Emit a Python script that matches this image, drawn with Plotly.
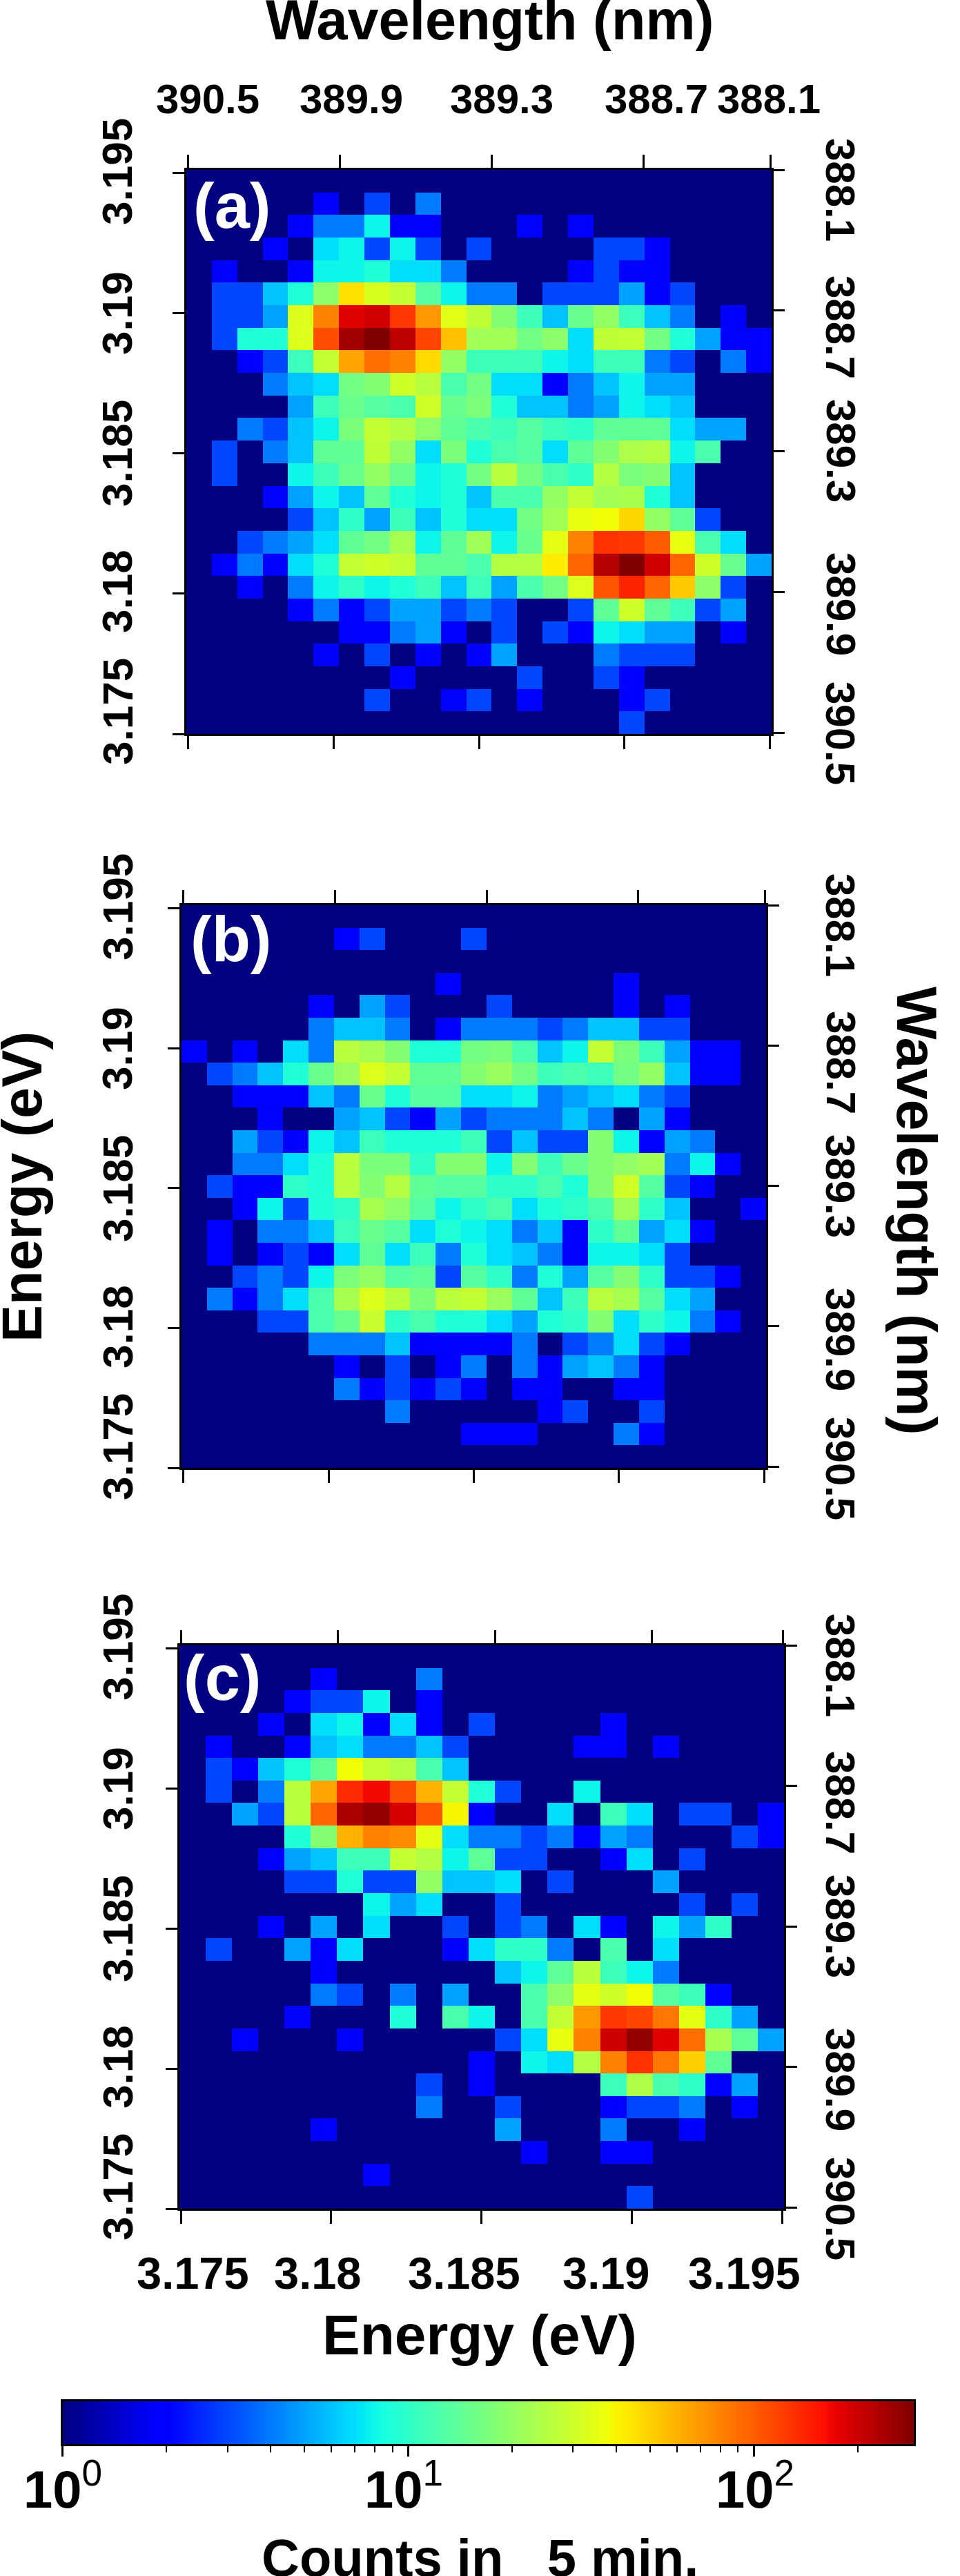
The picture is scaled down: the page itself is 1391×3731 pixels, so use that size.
import numpy as np
import plotly.graph_objects as go

# ---------- data: counts per cell, rows listed top to bottom ----------
Z = [0] * 23
panel_a = [
 Z,
 [0,0,0,0,0,2,0,3,0,4,0,0,0,0,0,0,0,0,0,0,0,0,0],
 [0,0,0,0,2,4,4,8,2,2,0,0,0,2,0,2,0,0,0,0,0,0,0],
 [0,0,0,2,0,7,8,3,8,3,0,3,0,0,0,0,3,3,2,0,0,0,0],
 [0,2,0,0,2,8,8,9,7,7,4,0,0,0,0,2,3,2,2,0,0,0,0],
 [0,3,3,6,9,19,45,32,28,13,8,4,4,0,3,3,3,5,2,3,0,0,0],
 [0,3,3,5,33,80,180,195,125,70,34,27,18,11,6,15,20,11,6,4,0,2,0],
 [0,3,9,9,33,110,245,290,215,115,55,22,22,16,19,7,27,28,16,9,5,2,2],
 [0,0,2,3,11,28,65,90,80,47,20,11,11,11,8,7,11,11,4,3,0,4,2],
 [0,0,0,4,6,7,16,18,30,26,12,16,7,7,2,4,6,8,5,5,0,0,0],
 [0,0,0,0,5,11,15,13,12,30,15,17,9,6,6,4,5,8,7,6,0,0,0],
 [0,0,4,3,6,8,17,28,25,19,14,12,11,13,11,10,14,14,14,7,5,5,0],
 [0,3,0,4,6,14,14,27,20,7,17,9,12,13,7,14,18,24,25,8,12,0,0],
 [0,3,0,0,8,11,15,20,15,8,9,16,26,16,12,10,25,17,18,6,0,0,0],
 [0,0,0,2,5,8,6,14,9,8,9,6,12,12,20,28,22,23,9,6,0,0,0],
 [0,0,0,0,3,6,10,5,11,6,9,7,7,16,22,36,38,48,20,14,3,0,0],
 [0,0,3,4,5,7,14,16,23,8,14,22,8,15,35,80,130,125,100,36,12,7,0],
 [0,2,4,2,7,9,28,30,28,14,14,12,25,25,42,95,225,290,195,95,30,15,5],
 [0,0,2,0,4,8,10,8,9,11,6,11,5,12,16,33,105,140,95,52,19,3,0],
 [0,0,0,0,2,4,2,3,5,5,3,4,3,0,0,3,14,30,14,11,3,5,0],
 [0,0,0,0,0,0,2,2,4,5,2,0,3,0,3,2,8,7,5,5,0,2,0],
 [0,0,0,0,0,2,0,3,0,2,0,2,5,0,0,0,4,3,3,3,0,0,0],
 [0,0,0,0,0,0,0,0,2,0,0,0,0,3,0,0,3,2,0,0,0,0,0],
 [0,0,0,0,0,0,0,3,0,0,2,3,0,2,0,0,0,2,3,0,0,0,0],
 [0,0,0,0,0,0,0,0,0,0,0,0,0,0,0,0,0,3,0,0,0,0,0],
]
panel_b = [
 Z,
 [0,0,0,0,0,0,2,3,0,0,0,3,0,0,0,0,0,0,0,0,0,0,0],
 Z,
 [0,0,0,0,0,0,0,0,0,0,2,0,0,0,0,0,0,2,0,0,0,0,0],
 [0,0,0,0,0,2,0,5,3,0,0,0,3,0,0,0,0,2,0,2,0,0,0],
 [0,0,0,0,0,4,6,6,4,0,2,4,4,4,3,4,6,6,3,3,0,0,0],
 [2,0,2,0,7,4,26,23,18,9,9,16,17,12,6,8,28,17,11,5,2,2,0],
 [0,3,4,6,9,15,21,33,28,14,14,18,21,16,11,12,11,16,20,6,2,2,0],
 [0,0,2,2,2,6,4,15,9,13,13,7,7,8,4,5,6,7,4,3,0,0,0],
 [0,0,0,2,0,0,5,6,3,2,5,3,4,4,4,6,4,0,5,2,0,0,0],
 [0,0,5,3,2,8,6,11,9,9,9,11,3,6,3,3,18,8,2,5,4,0,0],
 [0,0,4,4,7,9,26,17,17,10,18,18,8,18,11,15,18,20,22,4,8,2,0],
 [0,3,2,2,10,9,26,18,25,14,13,13,10,10,12,9,18,30,13,3,2,0,0],
 [0,0,2,8,3,9,10,23,19,13,8,10,12,7,9,10,12,22,10,6,0,0,2],
 [0,2,0,4,4,6,11,15,13,7,9,8,7,4,6,2,10,14,5,7,2,0,0],
 [0,2,0,2,3,2,7,14,7,11,4,9,7,6,4,2,8,8,7,3,0,0,0],
 [0,0,3,4,3,8,17,20,13,14,3,13,10,4,9,5,13,18,10,3,3,2,0],
 [0,4,2,4,7,12,23,33,26,17,26,28,21,14,6,11,26,23,13,7,5,0,0],
 [0,0,0,3,3,12,15,29,10,12,9,9,7,5,9,10,18,7,10,8,4,2,0],
 [0,0,0,0,0,4,4,4,6,2,2,2,2,4,0,3,4,7,3,2,0,0,0],
 [0,0,0,0,0,0,2,0,3,0,2,4,0,4,2,5,6,4,2,0,0,0,0],
 [0,0,0,0,0,0,4,2,3,2,3,2,0,2,2,0,0,2,2,0,0,0,0],
 [0,0,0,0,0,0,0,0,4,0,0,0,0,0,2,3,0,0,3,0,0,0,0],
 [0,0,0,0,0,0,0,0,0,0,0,2,2,2,0,0,0,4,2,0,0,0,0],
 Z,
]
panel_c = [
 Z,
 [0,0,0,0,0,2,0,0,0,4,0,0,0,0,0,0,0,0,0,0,0,0,0],
 [0,0,0,0,2,3,3,8,0,2,0,0,0,0,0,0,0,0,0,0,0,0,0],
 [0,0,0,2,0,7,8,2,7,2,0,3,0,0,0,0,2,0,0,0,0,0,0],
 [0,2,0,0,2,6,7,4,4,6,3,0,0,0,0,2,2,0,2,0,0,0,0],
 [0,3,2,6,9,14,38,28,25,12,6,0,0,0,0,0,0,0,0,0,0,0,0],
 [0,3,0,4,26,65,135,165,110,60,28,9,3,0,0,8,0,0,0,0,0,0,0],
 [0,0,5,3,26,95,235,265,190,105,40,2,0,0,7,0,11,7,0,3,3,0,2],
 [0,0,0,0,9,18,60,80,75,35,7,4,4,3,4,2,5,4,0,0,0,3,2],
 [0,0,0,2,5,6,11,11,28,25,8,14,3,3,0,0,2,7,0,3,0,0,0],
 [0,0,0,0,3,3,9,3,3,20,6,6,7,0,3,0,0,0,5,0,0,0,0],
 [0,0,0,0,0,0,0,8,5,7,0,0,3,0,0,0,0,0,0,3,0,3,0],
 [0,0,0,2,0,5,0,7,0,0,3,0,3,4,0,7,2,0,8,5,10,0,0],
 [0,3,0,0,5,2,7,0,0,0,2,7,10,10,4,0,12,0,7,0,0,0,0],
 [0,0,0,0,0,2,0,0,0,0,0,0,6,8,14,26,11,8,4,0,0,0,0],
 [0,0,0,0,0,4,3,0,4,0,5,0,0,12,19,35,30,38,13,11,2,0,0],
 [0,0,0,0,2,0,0,0,9,0,12,8,0,12,28,70,125,115,85,35,10,5,0],
 [0,0,2,0,0,0,2,0,0,0,0,0,3,7,36,80,200,265,180,90,23,14,5],
 [0,0,0,0,0,0,0,0,0,0,0,2,0,8,7,25,80,130,85,50,14,0,0],
 [0,0,0,0,0,0,0,0,0,3,0,2,0,0,0,0,11,24,12,10,2,5,0],
 [0,0,0,0,0,0,0,0,0,4,0,0,3,0,0,0,2,3,3,4,0,2,0],
 [0,0,0,0,0,2,0,0,0,0,0,0,5,0,0,0,4,0,0,2,0,0,0],
 [0,0,0,0,0,0,0,0,0,0,0,0,0,2,0,0,2,2,0,0,0,0,0],
 [0,0,0,0,0,0,0,2,0,0,0,0,0,0,0,0,0,0,0,0,0,0,0],
 [0,0,0,0,0,0,0,0,0,0,0,0,0,0,0,0,0,3,0,0,0,0,0],
]
panel_names = ["(a)", "(b)", "(c)"]
energy_ticks = [3.175, 3.18, 3.185, 3.19, 3.195]
energy_labels = ["3.175", "3.18", "3.185", "3.19", "3.195"]
left_labels = ["3.195", "3.19", "3.185", "3.18", "3.175"]
wl_top_ticks = [390.5, 389.9, 389.3, 388.7, 388.2]
wl_top_labels = ["390.5", "389.9", "389.3", "388.7", "388.1"]
wl_right_ticks = [388.1, 388.7, 389.3, 389.9, 390.5]
wl_right_labels = ["388.1", "388.7", "389.3", "389.9", "390.5"]
count_max = 290

# ---------- layout ----------
W, H = 1391, 3731
FONT = "Liberation Sans"
frames = [(270, 1118, 246, 1063), (263, 1110, 1311, 2126), (259.5, 1136, 2383, 3199)]
cbar_box = (90.5, 1324, 3478, 3540)
left_label_dy = [3, 208, 411, 611, 785]
right_label_dy = [29, 228, 407, 629, 816]
top_label_x = [301, 509, 727, 951, 1114]
bottom_label_x = [279, 460, 672, 878, 1078]
panel_label_pos = [(336, 298), (334, 1360), (322, 2430)]

for p in (panel_a, panel_b, panel_c):
    assert len(p) == 25 and all(len(r) == 23 for r in p), [len(r) for r in p]

def jet_scale():
    xp_r, fp_r = [0, .35, .66, .89, 1], [0, 0, 1, 1, .5]
    xp_g, fp_g = [0, .125, .375, .64, .91, 1], [0, 0, 1, 1, 0, 0]
    xp_b, fp_b = [0, .11, .34, .65, 1], [.5, 1, 1, 0, 0]
    stops = sorted(set(xp_r + xp_g + xp_b))
    out = []
    for s in stops:
        r, g, b = (np.interp(s, a, c) * 255 for a, c in ((xp_r, fp_r), (xp_g, fp_g), (xp_b, fp_b)))
        out.append([s, f"rgb({r:.0f},{g:.0f},{b:.0f})"])
    return out

JET = jet_scale()
ZMAX = np.log10(count_max)
nx = lambda x: x / W
ny = lambda y: 1 - y / H

fig = go.Figure()
annots = []

def text(s, x, y, size, angle=0, color="black", bold=True):
    annots.append(dict(text=s, x=nx(x), y=ny(y), xref="paper", yref="paper", showarrow=False,
                       xanchor="center", yanchor="middle", textangle=angle,
                       font=dict(family=FONT, size=size, color=color, weight=700 if bold else 400)))

E_LO, E_HI = 3.17494, 3.19506
EY_LO, EY_HI = 3.175, 3.19511
axis_style = dict(showgrid=False, zeroline=False, showline=True, linecolor="black", linewidth=3,
                  ticks="outside", tickcolor="black", tickwidth=3, showticklabels=False)

for i, (panel, frame) in enumerate(zip((panel_a, panel_b, panel_c), frames)):
    l, r, t, b = frame
    k = i * 2 + 1
    xa, ya, xb, yb = f"x{k}", f"y{k}", f"x{k+1}", f"y{k+1}"
    dx = (E_HI - E_LO) / 23
    dy = (EY_HI - EY_LO) / 25
    counts = np.array(panel[::-1], dtype=float)
    fig.add_trace(go.Heatmap(z=np.log10(np.maximum(counts, 1)), x0=E_LO + dx / 2, dx=dx,
                             y0=EY_LO + dy / 2, dy=dy, xaxis=xa, yaxis=ya, zmin=0, zmax=ZMAX,
                             colorscale=JET, showscale=False, hoverinfo="skip"))
    fig.add_trace(go.Scatter(x=[], y=[], xaxis=xb, yaxis=yb, showlegend=False))
    dom_x = [nx(l), nx(r)]
    dom_y = [ny(b), ny(t)]
    fig.layout[f"xaxis{k}"] = dict(axis_style, domain=dom_x, range=[E_LO, E_HI], anchor=ya, side="bottom",
                                   tickvals=energy_ticks, ticklen=19)
    fig.layout[f"yaxis{k}"] = dict(axis_style, domain=dom_y, range=[EY_LO, EY_HI], anchor=xa, side="left",
                                   tickvals=energy_ticks, ticklen=17)
    fig.layout[f"xaxis{k+1}"] = dict(axis_style, domain=dom_x, range=[390.507, 388.195], anchor=yb, side="top",
                                     overlaying=xa, tickvals=wl_top_ticks, ticklen=19)
    fig.layout[f"yaxis{k+1}"] = dict(axis_style, domain=dom_y, range=[390.505, 388.1], anchor=xb, side="right",
                                     overlaying=ya, tickvals=wl_right_ticks, ticklen=16)
    # tick labels, hand-placed as in the reference
    for lab, d in zip(left_labels, left_label_dy):
        text(lab, 170, t + d, 62, angle=-90)
    for lab, d in zip(wl_right_labels, right_label_dy):
        text(lab, 1218, t + d, 60, angle=90)
    text(panel_names[i], *panel_label_pos[i], 92, color="white")

for lab, x in zip(wl_top_labels, top_label_x):
    text(lab, x, 143, 60)
for lab, x in zip(energy_labels, bottom_label_x):
    text(lab, x, 3292, 65)

text("Wavelength (nm)", 710, 29, 81)
text("Energy (eV)", 695, 3381, 82)
text("Energy (eV)", 32, 1719, 81, angle=-90)
text("Wavelength (nm)", 1328, 1754, 81, angle=90)
text("Counts in \u00a0 5 min.", 696, 3704, 76)

# colour bar drawn on a log10 count axis
cb_x = np.linspace(0, ZMAX, 512)
fig.add_trace(go.Heatmap(z=[cb_x], x=cb_x, y=[0], xaxis="x7", yaxis="y7", zmin=0, zmax=ZMAX,
                         colorscale=JET, showscale=False, hoverinfo="skip"))
minor_vals = [np.log10(m * d) for d in (1, 10) for m in range(2, 10)] + [np.log10(200)]
cl, cr, ct, cb = cbar_box
fig.layout["xaxis7"] = dict(axis_style, domain=[nx(cl), nx(cr)], range=[0, ZMAX], anchor="y7", side="bottom",
                            tickvals=[0, 1, 2], ticklen=15, mirror=True,
                            minor=dict(tickvals=minor_vals, ticks="outside", ticklen=9, tickwidth=2, tickcolor="black"))
fig.layout["yaxis7"] = dict(showgrid=False, zeroline=False, showline=True, linecolor="black", linewidth=3,
                            mirror=True, showticklabels=False, ticks="", domain=[ny(cb), ny(ct)],
                            range=[-0.5, 0.5], anchor="x7")
for s, x in zip(["<b>10</b><sup>0</sup>", "<b>10</b><sup>1</sup>", "<b>10</b><sup>2</sup>"], [91, 585, 1094]):
    text(s, x, 3600, 76, bold=False)

fig.update_layout(width=W, height=H, margin=dict(l=0, r=0, t=0, b=0), autosize=False,
                  paper_bgcolor="white", plot_bgcolor="white", showlegend=False,
                  annotations=annots, font=dict(family=FONT))
fig.write_html("out.html", config={"displayModeBar": False}, post_script="document.body.style.margin='0';")
